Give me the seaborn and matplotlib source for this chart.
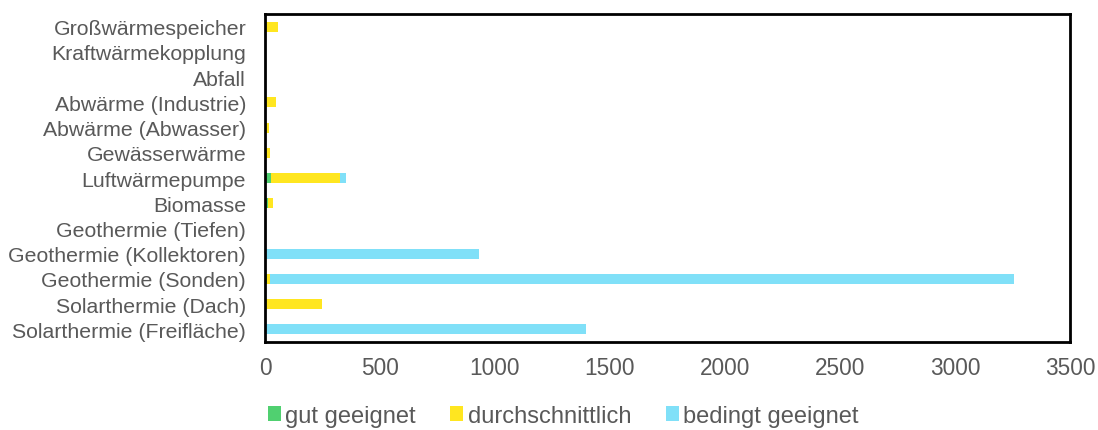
import matplotlib
matplotlib.use("Agg")
import matplotlib.pyplot as plt
import seaborn as sns
import pandas as pd
import numpy as np
from matplotlib.patches import Patch

categories = [
    "Großwärmespeicher",
    "Kraftwärmekopplung",
    "Abfall",
    "Abwärme (Industrie)",
    "Abwärme (Abwasser)",
    "Gewässerwärme",
    "Luftwärmepumpe",
    "Biomasse",
    "Geothermie (Tiefen)",
    "Geothermie (Kollektoren)",
    "Geothermie (Sonden)",
    "Solarthermie (Dach)",
    "Solarthermie (Freifläche)",
]
gut_geeignet = [0, 0, 0, 0, 0, 0, 25, 12, 0, 0, 8, 0, 0]
durchschnittlich = [57, 3, 0, 48, 18, 20, 300, 21, 0, 0, 13, 248, 0]
bedingt_geeignet = [0, 0, 0, 0, 0, 0, 27, 0, 0, 930, 3234, 0, 1396]

series_names = ["gut geeignet", "durchschnittlich", "bedingt geeignet"]
colors = ["#50D070", "#FFE620", "#80E0F8"]

sns.set_theme(style="white")
plt.rcParams["font.family"] = ["Liberation Sans", "DejaVu Sans"]

df = pd.DataFrame({
    "Kategorie": categories,
    "gut": gut_geeignet,
    "durch": durchschnittlich,
    "bedingt": bedingt_geeignet,
})
df["cum_gut"] = df["gut"]
df["cum_durch"] = df["gut"] + df["durch"]
df["cum_bedingt"] = df["cum_durch"] + df["bedingt"]

fig = plt.figure(figsize=(10.98, 4.31), dpi=100)
ax = fig.add_axes([0.2413, 0.2042, 0.7332, 0.7608])

# stacked bars: draw cumulative totals from the outermost segment inward
for col, c in [("cum_bedingt", colors[2]), ("cum_durch", colors[1]), ("cum_gut", colors[0])]:
    sns.barplot(data=df, x=col, y="Kategorie", order=categories, color=c,
                width=0.4, ax=ax, saturation=1, linewidth=0)

ax.set_xlim(0, 3500)
ax.set_xticks(np.arange(0, 3501, 500))
ax.set_xlabel("")
ax.set_ylabel("")
ax.tick_params(axis="both", length=0, colors="#595959")
ax.tick_params(axis="x", labelsize=16.3, pad=10)
ax.tick_params(axis="y", labelsize=15.3, pad=13.5)
for s in ax.spines.values():
    s.set_visible(True)
    s.set_color("black")
    s.set_linewidth(2)

handles = [Patch(facecolor=c, edgecolor="none") for c in colors]
leg = fig.legend(handles, series_names, loc="lower center", ncol=3,
                 bbox_to_anchor=(0.513, 0.008), frameon=False, fontsize=17,
                 handlelength=0.55, handleheight=0.6, handletextpad=0.2,
                 columnspacing=1.45, borderpad=0, borderaxespad=0)
for t in leg.get_texts():
    t.set_color("#595959")

fig.savefig("out.png", dpi=100)
